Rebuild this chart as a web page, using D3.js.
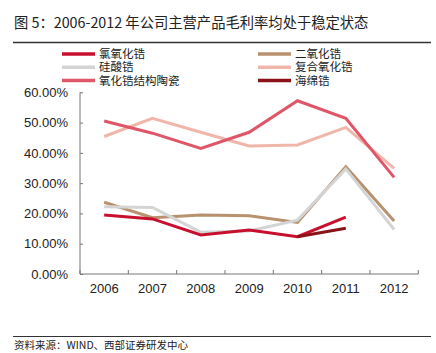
<!DOCTYPE html>
<html lang="zh">
<head>
<meta charset="UTF-8">
<title>毛利率</title>
<script src="https://d3js.org/d3.v7.min.js"></script>
<style>
  body { margin: 0; background: #fff; }
  svg { display: block; }
  .cjk { font-family: "Noto Sans CJK SC", sans-serif; fill: #222; }
  .axis text { font-family: "Liberation Sans", Arial, sans-serif; font-size: 13px; fill: #222; }
  .axis path, .axis line { stroke: #777; }
</style>
</head>
<body>
<svg width="436" height="353"></svg>
<script>
const years = ["2006", "2007", "2008", "2009", "2010", "2011", "2012"];
const yTicks = [0, 10, 20, 30, 40, 50, 60];

// values in %, null = no data
const lvyanghua   = [19.5, 18.2, 12.9, 14.5, 12.3, 18.8, null];   // 氯氧化锆
const eryanghua   = [23.7, 18.6, 19.5, 19.2, 17.0, 35.4, 17.5];   // 二氧化锆
const guisuan     = [22.2, 22.0, 13.8, 14.2, 17.8, 34.7, 14.7];   // 硅酸锆
const fuhe        = [45.4, 51.4, 46.8, 42.3, 42.6, 48.4, 34.9];   // 复合氧化锆
const taoci       = [50.5, 46.5, 41.5, 46.8, 57.2, 51.4, 31.9];   // 氧化锆结构陶瓷
const haimian     = [null, null, null, null, 12.3, 15.1, null];   // 海绵锆

const series = [
  {name: "氯氧化锆", values: lvyanghua, color: "#c8102e"},
  {name: "二氧化锆", values: eryanghua, color: "#b8926e"},
  {name: "硅酸锆", values: guisuan, color: "#d4d4d4"},
  {name: "复合氧化锆", values: fuhe, color: "#efb6a9"},
  {name: "氧化锆结构陶瓷", values: taoci, color: "#df5668"},
  {name: "海绵锆", values: haimian, color: "#8c1219"}
];
// draw order (back to front)
const drawOrder = ["复合氧化锆", "氧化锆结构陶瓷", "二氧化锆", "硅酸锆", "氯氧化锆", "海绵锆"];

const svg = d3.select("svg");

// title
svg.append("text").attr("class", "cjk")
  .attr("x", 14).attr("y", 28)
  .style("font-size", "14.3px")
  .text("图 5：2006-2012 年公司主营产品毛利率均处于稳定状态");
svg.append("line").attr("x1", 13).attr("x2", 431).attr("y1", 42.5).attr("y2", 42.5)
  .attr("stroke", "#333").attr("stroke-width", 1.5);

// footer
svg.append("line").attr("x1", 13).attr("x2", 431).attr("y1", 336.5).attr("y2", 336.5)
  .attr("stroke", "#333").attr("stroke-width", 1);
svg.append("text").attr("class", "cjk")
  .attr("x", 14).attr("y", 349)
  .style("font-size", "10.5px")
  .text("资料来源：WIND、西部证券研发中心");

// scales
const x = d3.scaleBand().domain(years).range([80, 418.3]);
const y = d3.scaleLinear().domain([0, 60]).range([274, 92.3]);

// axes
svg.append("g").attr("class", "axis")
  .attr("transform", "translate(80,0)")
  .call(d3.axisLeft(y).tickValues(yTicks).tickSize(-3).tickPadding(12)
    .tickFormat(d => d.toFixed(2) + "%"))
  .call(g => g.select(".domain").attr("d", `M0,${y(60)}V${y(0)}`));

svg.append("g").attr("class", "axis")
  .attr("transform", "translate(0,274)")
  .call(d3.axisBottom(x).tickSize(0).tickPadding(10))
  .call(g => g.select(".domain").attr("d", `M80,0H418.3`))
  .call(g => g.selectAll(".bound").data(years.concat(["end"])).enter()
    .append("line").attr("class", "bound")
    .attr("x1", (d, i) => i < years.length ? x(d) : x(years[years.length - 1]) + x.bandwidth())
    .attr("x2", (d, i) => i < years.length ? x(d) : x(years[years.length - 1]) + x.bandwidth())
    .attr("y1", 0).attr("y2", -4).attr("stroke", "#777"));

// lines
const line = d3.line()
  .defined(d => d.v != null)
  .x(d => x(d.year) + x.bandwidth() / 2)
  .y(d => y(d.v));

drawOrder.forEach(name => {
  const s = series.find(d => d.name === name);
  svg.append("path")
    .datum(years.map((yr, i) => ({year: yr, v: s.values[i]})))
    .attr("fill", "none")
    .attr("stroke", s.color)
    .attr("stroke-width", 3)
    .attr("stroke-linejoin", "miter")
    .attr("d", line);
});

// legend: two columns
const legend = svg.append("g");
series.forEach((s, i) => {
  const col = i % 2, row = Math.floor(i / 2);
  const lx = col === 0 ? 62 : 258;
  const ly = 54 + row * 13.3;
  legend.append("line").attr("x1", lx).attr("x2", lx + 33)
    .attr("y1", ly).attr("y2", ly)
    .attr("stroke", s.color).attr("stroke-width", 3.5);
  legend.append("text").attr("class", "cjk")
    .attr("x", lx + 37).attr("y", ly + 4)
    .style("font-size", "11.5px")
    .text(s.name);
});
</script>
</body>
</html>
